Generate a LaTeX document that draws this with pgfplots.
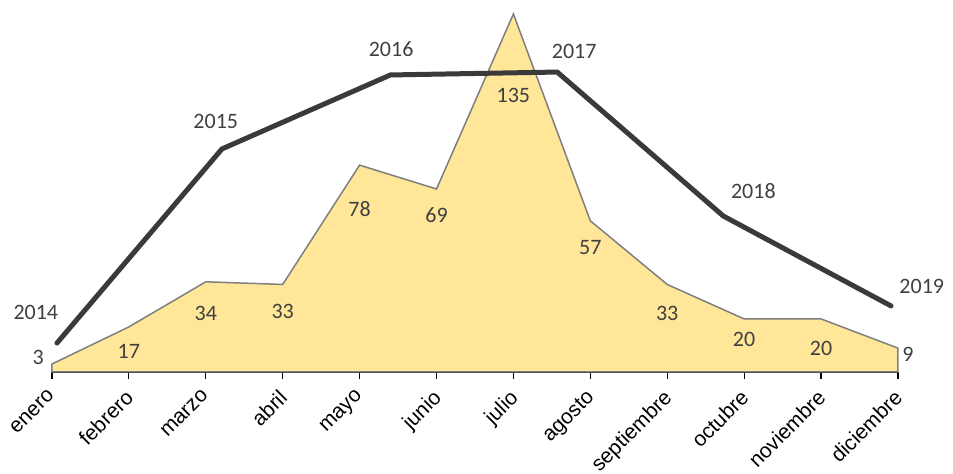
\documentclass[border=0pt]{standalone}
\usepackage{pgfplots}
\pgfplotsset{compat=1.18}
\usepackage{fontspec}
\setmainfont{Liberation Sans}
\newfontfamily\calibri{Carlito}
\definecolor{areafill}{HTML}{FFE699}
\definecolor{areaedge}{HTML}{7F7F7F}
\definecolor{linec}{HTML}{3A3A3A}
\definecolor{lab}{HTML}{404040}
\begin{document}
\begin{tikzpicture}
\begin{axis}[
  scale only axis, width=846pt, height=358pt,
  xmin=0, xmax=11, ymin=0, ymax=135,
  axis x line=bottom, axis y line=none,
  axis line style={-, black, line width=1.3pt},
  xtick={0,1,2,3,4,5,6,7,8,9,10,11},
  xticklabels={enero,febrero,marzo,abril,mayo,junio,julio,agosto,septiembre,octubre,noviembre,diciembre},
  x tick label style={xshift=-5pt, yshift=-8pt, rotate=45, anchor=north east, font=\fontsize{21}{21}\selectfont, inner sep=1pt},
  major tick length=7pt, tick style={black, line width=1.2pt}, tick align=outside,
  ytick=\empty,
  clip=false,
]
\addplot[fill=areafill, draw=areaedge, line width=1.5pt] coordinates {
  (0,3) (1,17) (2,34) (3,33) (4,78) (5,69) (6,135) (7,57) (8,33) (9,20) (10,20) (11,9)
} \closedcycle;
\addplot[linec, line width=5pt, line cap=round, mark=none] coordinates {
  (0.065,10.9) (2.21,84.1) (4.40,112.0) (6.57,113.1) (8.73,58.8) (10.91,24.9)
};
\begin{scope}[every node/.style={font=\calibri\fontsize{22}{22}\selectfont, text=lab}]
\node at (axis cs:-0.18,5.3) {3};
\node at (axis cs:1,7.9) {17};
\node at (axis cs:2,22.2) {34};
\node at (axis cs:3,23) {33};
\node at (axis cs:4,61.5) {78};
\node at (axis cs:5,59.2) {69};
\node at (axis cs:6,104.4) {135};
\node at (axis cs:7,47.1) {57};
\node at (axis cs:8,21.9) {33};
\node at (axis cs:9,12.4) {20};
\node at (axis cs:10,9.0) {20};
\node at (axis cs:11.13,6.8) {9};
\node at (axis cs:-0.21,22.6) {2014};
\node at (axis cs:2.13,94.6) {2015};
\node at (axis cs:4.41,121.8) {2016};
\node at (axis cs:6.79,121) {2017};
\node at (axis cs:9.12,68.3) {2018};
\node at (axis cs:11.31,32.4) {2019};
\end{scope}
\coordinate (BL) at (axis cs:-0.676,-38.46);
\coordinate (TR) at (axis cs:11.716,140.27);
\end{axis}
\pgfresetboundingbox
\path (BL) rectangle (TR);
\end{tikzpicture}
\end{document}
